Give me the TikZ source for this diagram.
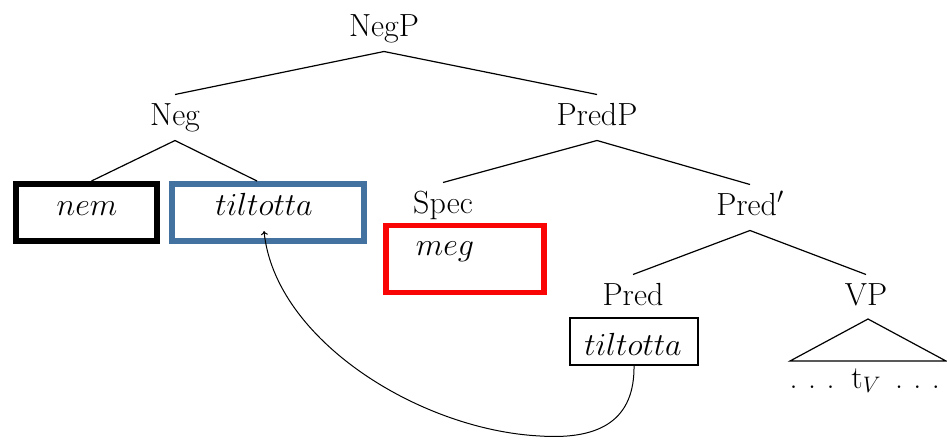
\RequirePackage{fix-cm}
\documentclass[tikz,border=0pt]{standalone}
\usetikzlibrary{arrows.meta}
\definecolor{boxblue}{RGB}{68,114,160}
\definecolor{boxred}{RGB}{250,5,5}
\newcommand{\spaceddots}{.\hspace{10.5pt}.\hspace{10.5pt}.}
\begin{document}
\begin{tikzpicture}[x=1pt,y=-1pt,
  lbl/.style={anchor=base, font=\fontsize{32}{38}\selectfont,
    text height=22pt, text depth=7pt, inner xsep=0pt, inner ysep=8.5pt, outer sep=0pt},
  word/.style={anchor=base, font=\fontsize{32}{38}\selectfont, inner sep=0pt, outer sep=0pt},
  frame/.style={draw, inner sep=0pt, outer sep=0pt},
  branch/.style={line width=1.2pt},
  movearc/.style={line width=1pt, -{To[length=4pt,width=7pt]}}]
\useasboundingbox[fill=white] (0,0) rectangle (947,439);

% tree labels
\node[lbl] (negp)  at (384,36)  {NegP};
\node[lbl] (neg)   at (175,125) {Neg};
\node[lbl] (predp) at (597,125) {PredP};
\node[lbl] (spec)  at (443,213) {Spec};
\node[lbl] (predb) at (750,215) {Pred$'$};
\node[lbl] (pred)  at (633,305) {Pred};
\node[lbl] (vp)    at (866,305) {VP};

% framed words
\node[frame, draw=black, line width=6pt, minimum width=141pt, minimum height=57pt] (nembox) at (86.5,212.5) {};
\node[frame, draw=boxblue, line width=6pt, minimum width=192pt, minimum height=57pt] (tiltbox) at (268,212.5) {};
\node[frame, draw=boxred, line width=5.5pt, minimum width=158pt, minimum height=67pt] (megbox) at (465,259) {};
\node[frame, draw=black, line width=1.2pt, minimum width=128pt, minimum height=47pt] (predbox) at (634,341.5) {};

\node[word] (nem)   at (87,215)  {$nem$};
\node[word] (tilt)  at (264,215) {$tiltotta$};
\node[word] (meg)   at (445,255) {$meg$};
\node[word] (tiltb) at (633,355) {$tiltotta$};
\node[word, anchor=base west] (trace) at (789.5,388)
  {\spaceddots\hspace{17pt}t$_V$\hspace{14pt}\spaceddots};

% branches
\draw[branch] (negp.south) -- (neg.north);
\draw[branch] (negp.south) -- (predp.north);
\draw[branch] (neg.south) -- ([xshift=5pt,yshift=3pt]nembox.north);
\draw[branch] (neg.south) -- ([xshift=-11pt,yshift=3pt]tiltbox.north);
\draw[branch] (predp.south) -- (spec.north);
\draw[branch] (predp.south) -- (predb.north);
\draw[branch] (predb.south) -- (pred.north);
\draw[branch] (predb.south) -- (vp.north);

% VP triangle
\coordinate (vpapex) at (868,319);
\coordinate (vpleft) at (790,361);
\coordinate (vpright) at (946,361);
\draw[branch] (vpapex) -- (vpleft) -- (vpright) -- cycle;

% head movement arc
\coordinate (arclow) at (540,436);
\coordinate (arcend) at (264,231);
\draw[movearc] (predbox.south) .. controls (635,420) and (600,440) .. (arclow)
  .. controls (420,430) and (275,340) .. (arcend);
\end{tikzpicture}
\end{document}
